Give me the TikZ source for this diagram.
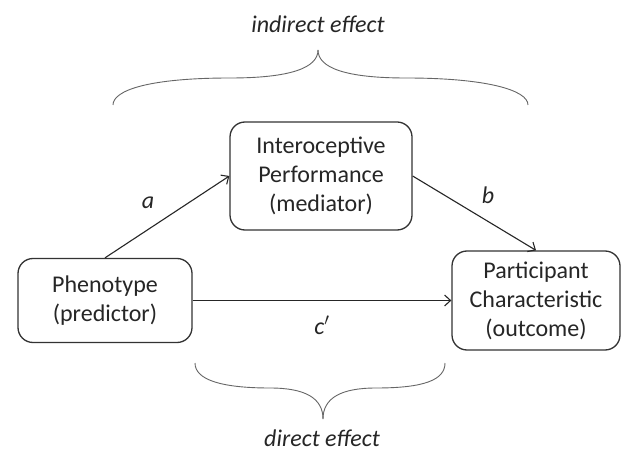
\documentclass[tikz,border=0pt]{standalone}
\usepackage{fontspec}
\setmainfont{Carlito}
\usetikzlibrary{arrows.meta}
\begin{document}
\begin{tikzpicture}[x=1bp,y=-1bp,
  every node/.style={font=\fontsize{24bp}{29bp}\selectfont, text=black!85},
  box/.style={draw=black!80, line width=1.3bp, rounded corners=15bp, align=center, inner sep=0pt},
  conn/.style={draw=black!85, line width=1.1bp, -{Straight Barb[length=6bp,width=11bp,line width=1.1bp]}},
  lbl/.style={font=\fontsize{24bp}{29bp}\selectfont\itshape},
  brace/.style={draw=black!60, line width=0.9bp}]
\useasboundingbox (0,0) rectangle (622,453);
\fill[white] (0,0) rectangle (622,453);
\node[box, minimum width=182bp, minimum height=108bp] (med) at (321,176) {Interoceptive\\Performance\\(mediator)};
\node[box, minimum width=174bp, minimum height=84bp] (pred) at (105,300.5) {Phenotype\\(predictor)};
\node[box, minimum width=168bp, minimum height=99bp] (out) at (536,300.5) {Participant\\Characteristic\\(outcome)};
\draw[conn] (pred.north) -- (med.west);
\draw[conn] (med.east) -- (out.north);
\draw[conn] (pred.east) -- (out.west);
\node[lbl] (la) at (148,203) {a};
\node[lbl] (lb) at (488,195) {b};
\node[lbl] (lc) at (322,325) {c\/$'$};
\node[lbl, anchor=base, inner sep=0pt] (ind) at (318,33) {indirect effect};
\node[lbl, anchor=base, inner sep=0pt] (dir) at (322,446.5) {direct effect};
% top brace
\coordinate (tt) at (318,50);
\draw[brace] (113,105) .. controls (113,90) and (150,78) .. (230,78) .. controls (290,78) and (318,68) .. (tt);
\draw[brace] (528,105) .. controls (528,90) and (486,78) .. (406,78) .. controls (346,78) and (318,68) .. (tt);
% bottom brace
\coordinate (bt) at (323,419);
\draw[brace] (195,363) .. controls (195,380) and (222,388) .. (270,388) .. controls (305,388) and (323,398) .. (bt);
\draw[brace] (445,363) .. controls (445,380) and (424,388) .. (376,388) .. controls (341,388) and (323,398) .. (bt);
\end{tikzpicture}
\end{document}
